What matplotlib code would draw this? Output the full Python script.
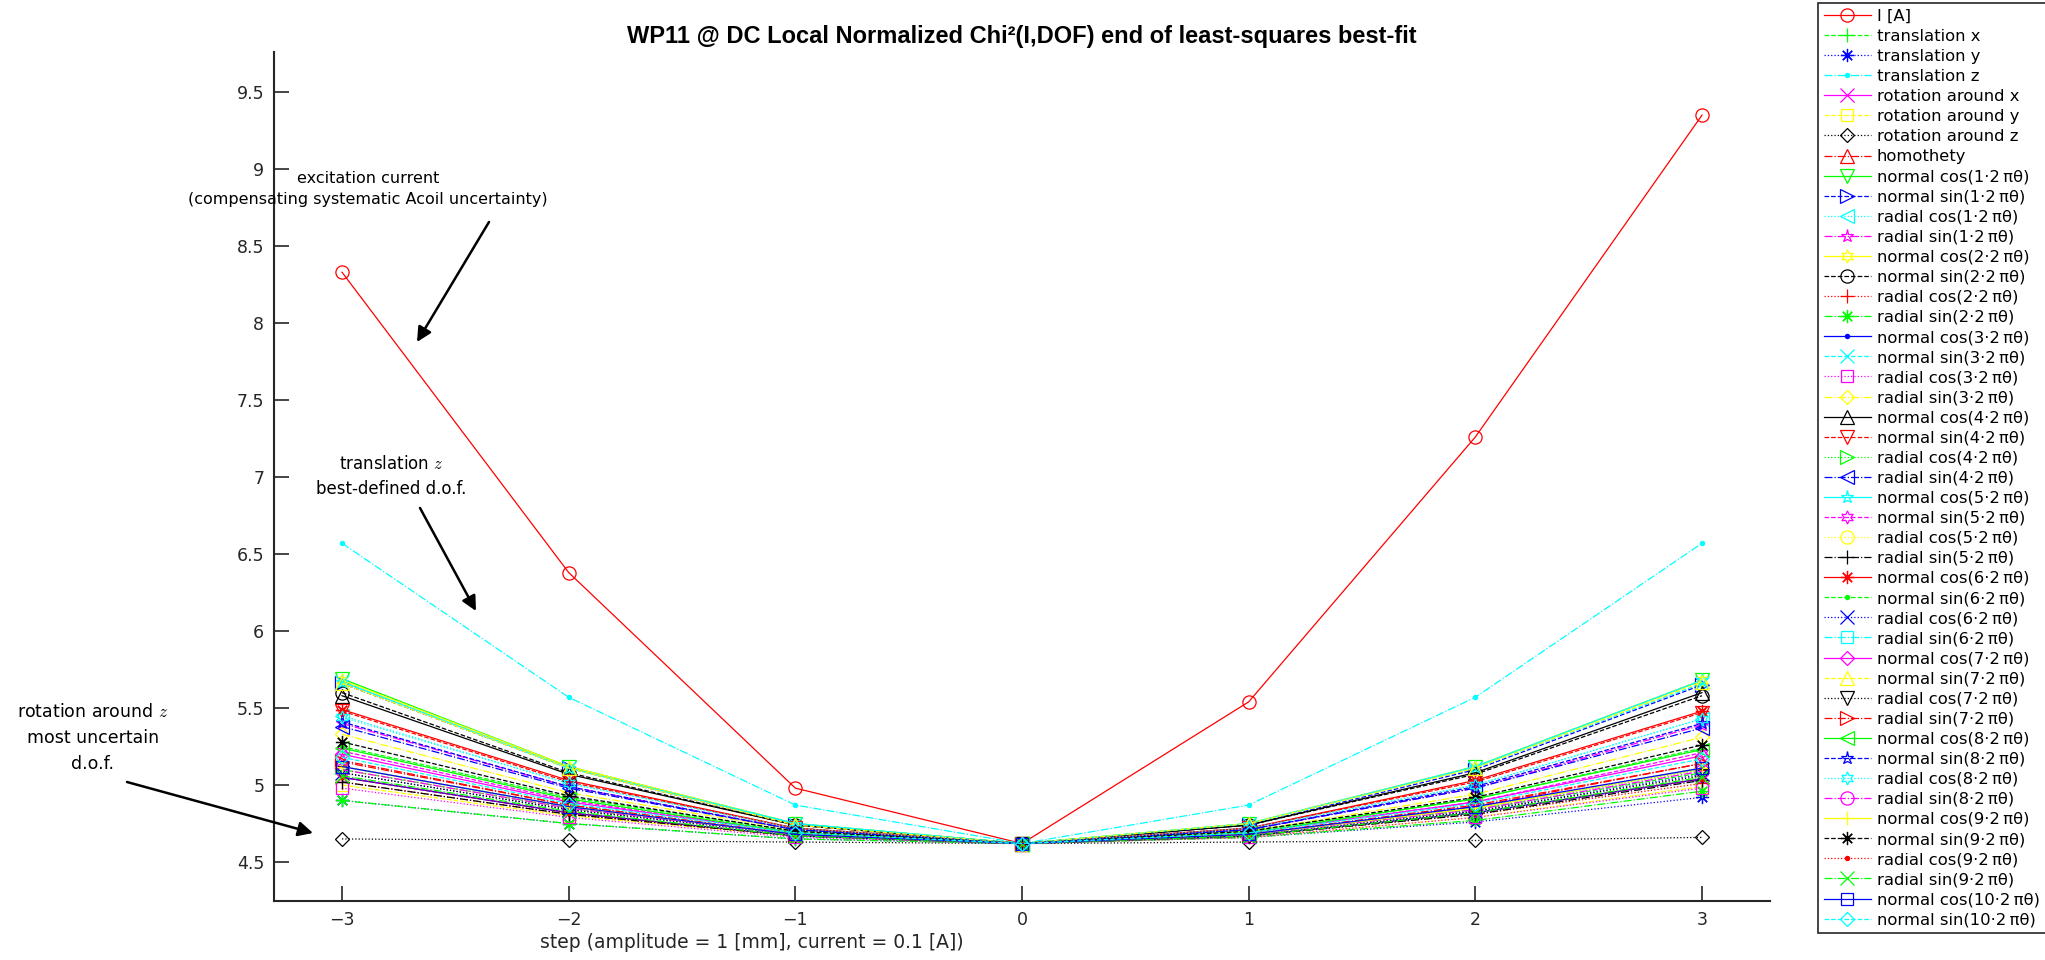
import matplotlib
matplotlib.use("Agg")
import matplotlib.pyplot as plt

plt.rcParams['font.family'] = ['DejaVu Sans']
plt.rcParams['mathtext.fontset'] = 'cm'

steps = [-3, -2, -1, 0, 1, 2, 3]

# chi2 values per step (-3 .. 3)
i_current = [8.33, 6.38, 4.98, 4.62, 5.54, 7.26, 9.35]
translation_x = [5.10, 4.85, 4.68, 4.62, 4.68, 4.84, 5.08]
translation_y = [4.90, 4.75, 4.65, 4.62, 4.66, 4.76, 4.92]
translation_z = [6.57, 5.57, 4.87, 4.62, 4.87, 5.57, 6.57]
rotation_x = [5.05, 4.82, 4.67, 4.62, 4.67, 4.82, 5.04]
rotation_y = [5.00, 4.80, 4.67, 4.62, 4.66, 4.79, 4.99]
rotation_z = [4.65, 4.64, 4.63, 4.62, 4.63, 4.64, 4.66]
homothety = [5.16, 4.87, 4.68, 4.62, 4.68, 4.86, 5.14]

# harmonics: normal cos, normal sin, radial cos, radial sin for n = 1..10
harmonic_values = [
    [5.69, 5.12, 4.75, 4.62, 4.75, 5.12, 5.68], [5.66, 5.11, 4.74, 4.62, 4.74, 5.10, 5.65],
    [5.45, 5.01, 4.72, 4.62, 4.72, 5.00, 5.43], [5.40, 4.99, 4.71, 4.62, 4.71, 4.98, 5.39],
    [5.68, 5.12, 4.75, 4.62, 4.75, 5.12, 5.68], [5.60, 5.08, 4.74, 4.62, 4.74, 5.07, 5.58],
    [5.02, 4.81, 4.67, 4.62, 4.67, 4.81, 5.01], [4.90, 4.75, 4.65, 4.62, 4.66, 4.77, 4.96],
    [5.05, 4.82, 4.67, 4.62, 4.67, 4.82, 5.04], [5.67, 5.11, 4.75, 4.62, 4.75, 5.11, 5.66],
    [4.98, 4.79, 4.66, 4.62, 4.66, 4.79, 4.98], [5.33, 4.95, 4.71, 4.62, 4.70, 4.94, 5.31],
    [5.58, 5.07, 4.74, 4.62, 4.74, 5.08, 5.60], [5.48, 5.02, 4.72, 4.62, 4.72, 5.02, 5.47],
    [5.12, 4.86, 4.68, 4.62, 4.68, 4.85, 5.10], [5.38, 4.98, 4.71, 4.62, 4.71, 4.98, 5.37],
    [5.67, 5.11, 4.75, 4.62, 4.75, 5.12, 5.68], [5.22, 4.90, 4.69, 4.62, 4.69, 4.89, 5.21],
    [5.10, 4.85, 4.68, 4.62, 4.68, 4.85, 5.10], [5.02, 4.81, 4.67, 4.62, 4.67, 4.81, 5.03],
    [5.49, 5.03, 4.72, 4.62, 4.72, 5.03, 5.48], [5.25, 4.92, 4.70, 4.62, 4.70, 4.91, 5.24],
    [5.08, 4.84, 4.68, 4.62, 4.67, 4.83, 5.07], [5.12, 4.86, 4.68, 4.62, 4.68, 4.85, 5.11],
    [5.20, 4.89, 4.69, 4.62, 4.69, 4.89, 5.19], [5.66, 5.11, 4.74, 4.62, 4.75, 5.11, 5.67],
    [5.08, 4.84, 4.68, 4.62, 4.67, 4.83, 5.06], [5.15, 4.87, 4.68, 4.62, 4.68, 4.87, 5.14],
    [5.24, 4.91, 4.69, 4.62, 4.69, 4.91, 5.23], [5.41, 4.99, 4.71, 4.62, 4.71, 4.99, 5.40],
    [5.44, 5.01, 4.72, 4.62, 4.72, 5.00, 5.43], [5.10, 4.85, 4.68, 4.62, 4.68, 4.84, 5.09],
    [5.12, 4.86, 4.68, 4.62, 4.68, 4.85, 5.11], [5.28, 4.93, 4.70, 4.62, 4.70, 4.92, 5.26],
    [5.05, 4.82, 4.67, 4.62, 4.67, 4.82, 5.04], [5.06, 4.83, 4.67, 4.62, 4.67, 4.82, 5.05],
    [5.12, 4.86, 4.68, 4.62, 4.68, 4.86, 5.11], [5.18, 4.88, 4.69, 4.62, 4.69, 4.88, 5.17],
]
harmonic_kinds = ['normal cos', 'normal sin', 'radial cos', 'radial sin']

labels = ['I [A]', 'translation x', 'translation y', 'translation z',
          'rotation around x', 'rotation around y', 'rotation around z', 'homothety']
series = [i_current, translation_x, translation_y, translation_z,
          rotation_x, rotation_y, rotation_z, homothety]
for k, vals in enumerate(harmonic_values):
    n = k // 4 + 1
    labels.append('%s(%d\u00b72\u2009\u03c0\u03b8)' % (harmonic_kinds[k % 4], n))
    series.append(vals)

# matlab-like cycling of colour / marker / line style
colors = ['#ff0000', '#00ff00', '#0000ff', '#00ffff', '#ff00ff', '#ffff00', '#000000']
markers = ['o', '+', (8, 2, 0), '.', 'x', 's', 'D', '^', 'v', '>', '<', '*', (6, 1, 0)]
linestyles = ['-', '--', ':', '-.']

fig = plt.figure(figsize=(20.45, 9.6), dpi=100)
ax = fig.add_axes([274 / 2045, 1 - 901 / 960, (1770 - 274) / 2045, (901 - 52) / 960])

for i, (lab, vals) in enumerate(zip(labels, series)):
    m = markers[i % 13]
    ms = 9.5
    if m == 'D':
        ms = 7
    elif m == '.':
        ms = 6
    elif m == 's':
        ms = 8
    ax.plot(steps, vals, color=colors[i % 7], linestyle=linestyles[i % 4],
            marker=m, markersize=ms, markerfacecolor='none' if m != '.' else colors[i % 7],
            markeredgewidth=0.9, linewidth=0.9, label=lab)

ax.set_xlim(-3.3, 3.3)
ax.set_ylim(4.247, 9.76)
ax.set_xticks(steps)
ax.set_yticks([4.5, 5, 5.5, 6, 6.5, 7, 7.5, 8, 8.5, 9, 9.5])
ax.set_yticklabels(['4.5', '5', '5.5', '6', '6.5', '7', '7.5', '8', '8.5', '9', '9.5'])
ax.tick_params(direction='in', length=10.5, width=1.2, labelsize=12.5, colors='#262626', pad=7)
for s in ['top', 'right']:
    ax.spines[s].set_visible(False)
for s in ['left', 'bottom']:
    ax.spines[s].set_linewidth(1.5)
    ax.spines[s].set_color('#262626')

fig.text(1022 / 2045, 1 - 37 / 960,
         'WP11 @ DC Local Normalized Chi\u00b2(I,DOF) end of least-squares best-fit',
         ha='center', va='center', fontsize=17, fontweight='bold',
         family=['Liberation Sans Narrow', 'Liberation Sans'])
fig.text(752 / 2045, 1 - 943 / 960, 'step (amplitude = 1 [mm], current = 0.1 [A])',
         ha='center', va='center', fontsize=13.5, color='#262626')

arrow = dict(arrowstyle='-|>', color='k', lw=1.8, mutation_scale=22, shrinkA=0, shrinkB=0)
# excitation current
fig.text(368 / 2045, 1 - 189 / 960,
         'excitation current\n(compensating systematic Acoil uncertainty)',
         ha='center', va='center', fontsize=11.5, linespacing=1.5)
ax.annotate('', xy=(417, 960 - 342), xycoords='figure pixels',
            xytext=(489, 960 - 222), textcoords='figure pixels', arrowprops=arrow)
# translation z
fig.text(391 / 2045, 1 - 477 / 960, 'translation $z$\nbest-defined d.o.f.',
         ha='center', va='center', fontsize=12, linespacing=1.5)
ax.annotate('', xy=(476, 960 - 611), xycoords='figure pixels',
            xytext=(420, 960 - 508), textcoords='figure pixels', arrowprops=arrow)
# rotation z
fig.text(93 / 2045, 1 - 738 / 960, 'rotation around $z$\nmost uncertain\nd.o.f.',
         ha='center', va='center', fontsize=12.5, linespacing=1.6)
ax.annotate('', xy=(313, 960 - 833), xycoords='figure pixels',
            xytext=(127, 960 - 782), textcoords='figure pixels', arrowprops=arrow)

leg = fig.legend(loc='upper left', bbox_to_anchor=(1818 / 2045, 1 - 3 / 960),
                 bbox_transform=fig.transFigure, borderaxespad=0, borderpad=0.35,
                 handlelength=2.87, handletextpad=0.37, labelspacing=0.31, fontsize=11.8,
                 fancybox=False, framealpha=1, edgecolor='#262626')
leg.get_frame().set_linewidth(1.2)

fig.savefig('out.png', dpi=100)
